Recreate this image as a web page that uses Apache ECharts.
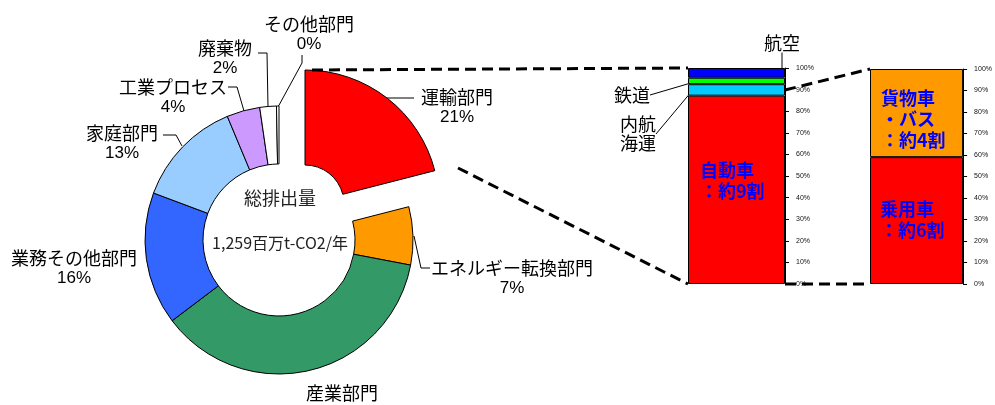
<!DOCTYPE html>
<html><head><meta charset="utf-8">
<script src="https://cdn.jsdelivr.net/npm/echarts@6/dist/echarts.min.js"></script>
<style>html,body{margin:0;padding:0;background:#fff}#c{width:995px;height:405px}</style>
</head><body><div id="c"></div>
<script>
// ---- data ----
const sectors = ['運輸部門','エネルギー転換部門','産業部門','業務その他部門','家庭部門','工業プロセス','廃棄物','その他部門'];
const sectorShares = [21, 7, 36.7, 16, 13, 4, 2, 0.3];
const totalTitle = '総排出量';
const totalAmount = '1,259百万t-CO2/年';
const transportModes = ['自動車','内航海運','鉄道','航空'];
const transportShares = [87.2, 5.3, 3.0, 4.5];
const transportNotes = ['：約9割', '', '', ''];
const vehicleTypes = ['乗用車','貨物車・バス'];
const vehicleShares = [59, 41];
const vehicleNotes = ['：約6割', '：約4割'];

// ---- styles / layout ----
const JP = "'Noto Sans CJK JP', sans-serif";
const NUM = "'Liberation Sans Narrow', 'Liberation Sans', Arial, sans-serif";
const sectorColors = ['#FF0000','#FF9900','#339966','#3366FF','#99CCFF','#CC99FF','#FFFFFF','#FFFFFF'];
const transportColors = ['#FF0000','#00CCFF','#00FF00','#0000FF'];
const vehicleColors = ['#FF0000','#FF9900'];
const pieCenter = [279, 240], pieRadius = [76, 134];
const explodeCenter = [305, 204], explodeRadius = [39, 134];
const G1 = {left: 688, top: 68, width: 97, height: 216};
const G2 = {left: 870, top: 69, width: 97, height: 215};
const sectorLabelLayout = [
  {x: 457, y: 107, line: [[387, 98], [400, 98], [414, 98]]},
  {x: 512, y: 278, line: [[414, 236], [421, 268], [430, 268]]},
  {x: 342, y: 403, line: null},
  {x: 74,  y: 268, line: null},
  {x: 122, y: 143, line: [[182, 146], [176, 135], [163, 135]]},
  {x: 173, y: 97,  line: [[244, 111], [237, 87], [228, 87]]},
  {x: 225, y: 58,  line: [[268, 107], [267, 53], [258, 53]]},
  {x: 309, y: 34,  line: [[278, 107], [302, 63], [302, 55]]}
];
const transportLabelLayout = [
  null,
  {x: 638, y: 134, line: [[658, 112], [676, 98], [694, 84]]},
  {x: 632, y: 95,  line: [[652, 90], [671, 85], [690, 80]]},
  {x: 782, y: 43,  line: [[735, 67], [746, 55], [757, 42]]}
];
const insideLabel = {
  color: '#0000FF', fontFamily: JP, fontWeight: 'bold', fontSize: 18, align: 'left', verticalAlign: 'top'
};

const chart = echarts.init(document.getElementById('c'));

const pieMain = {
  type: 'pie', center: pieCenter, radius: pieRadius, startAngle: 90, clockwise: true,
  avoidLabelOverlap: false, silent: true,
  itemStyle: {borderColor: '#000', borderWidth: 1},
  data: sectors.map((n, i) => ({
    name: n, value: sectorShares[i],
    itemStyle: i === 0 ? {color: 'rgba(0,0,0,0)', borderWidth: 0} : {color: sectorColors[i]},
    labelLine: {show: !!sectorLabelLayout[i].line}
  })),
  label: {
    show: true, position: 'outside', color: '#000',
    formatter: p => '{n|' + p.name + '}\n{p|' + Math.round(p.value) + '%}',
    rich: {
      n: {fontFamily: JP, fontSize: 18, lineHeight: 20, color: '#000'},
      p: {fontFamily: NUM, fontSize: 17, lineHeight: 20, color: '#000'}
    }
  },
  labelLine: {show: true, lineStyle: {color: '#000', width: 1}},
  labelLayout: p => {
    const L = sectorLabelLayout[p.dataIndex];
    const o = {x: L.x, y: L.y, align: 'center', verticalAlign: 'middle'};
    if (L.line) o.labelLinePoints = L.line;
    return o;
  }
};

const pieExplode = {
  type: 'pie', center: explodeCenter, radius: explodeRadius, startAngle: 90, clockwise: true,
  silent: true, label: {show: false}, labelLine: {show: false},
  data: sectors.map((n, i) => ({
    name: n, value: sectorShares[i],
    itemStyle: i === 0 ? {color: sectorColors[0], borderColor: '#000', borderWidth: 1}
                       : {color: 'rgba(0,0,0,0)', borderWidth: 0}
  }))
};

function yAx(gi) {
  return {
    type: 'value', gridIndex: gi, min: 0, max: 100, interval: 10, position: 'right',
    axisLine: {show: true, lineStyle: {color: '#000', width: 1}},
    axisTick: {show: true, length: 4, lineStyle: {color: '#000'}},
    axisLabel: {formatter: '{value}%', fontSize: 7, margin: 11, color: '#111', fontFamily: "'Liberation Sans', Arial"},
    splitLine: {show: false}
  };
}

const transportSeries = transportModes.map((m, i) => {
  const L = transportLabelLayout[i];
  const s = {
    type: 'bar', name: m, xAxisIndex: 0, yAxisIndex: 0, stack: 't', barWidth: '100%',
    data: [transportShares[i]], silent: true,
    itemStyle: {color: transportColors[i], borderColor: '#000', borderWidth: 1}
  };
  if (i === 0) {
    s.label = Object.assign({show: true, position: [12, 64], lineHeight: 21,
      formatter: m + '\n' + transportNotes[i]}, insideLabel);
  } else {
    s.label = {show: true, position: 'inside', color: '#000', fontFamily: JP, fontSize: 18, lineHeight: 19,
      formatter: m.length > 2 ? m.slice(0, 2) + '\n' + m.slice(2) : m};
    s.labelLine = {show: true, lineStyle: {color: '#000', width: 1}};
    s.labelLayout = () => ({x: L.x, y: L.y, align: 'center', verticalAlign: 'middle', labelLinePoints: L.line});
  }
  return s;
});

const vehiclePos = [[10, 42], [11, 19]];
const vehicleSeries = vehicleTypes.map((v, i) => ({
  type: 'bar', name: v, xAxisIndex: 1, yAxisIndex: 1, stack: 'v', barWidth: '100%',
  data: [vehicleShares[i]], silent: true,
  itemStyle: {color: vehicleColors[i], borderColor: '#000', borderWidth: 1},
  label: Object.assign({show: true, position: vehiclePos[i], lineHeight: 21,
    formatter: v.replace('・', '\n・') + '\n' + vehicleNotes[i]}, insideLabel)
}));

const dash = {stroke: '#000', lineWidth: 3, lineDash: [11, 6]};
const connectors = [
  [312, 70, G1.left, G1.top],
  [458, 168, G1.left, G1.top + G1.height],
  [G1.left + G1.width, 90, G2.left, G2.top],
  [G1.left + G1.width, G1.top + G1.height, G2.left, G2.top + G2.height]
];

chart.setOption({
  animation: false,
  backgroundColor: '#fff',
  grid: [
    Object.assign({containLabel: false}, G1),
    Object.assign({containLabel: false}, G2)
  ],
  xAxis: [
    {type: 'category', gridIndex: 0, data: ['運輸部門'], show: false},
    {type: 'category', gridIndex: 1, data: ['自動車'], show: false}
  ],
  yAxis: [yAx(0), yAx(1)],
  series: [pieMain, pieExplode].concat(transportSeries, vehicleSeries),
  graphic: connectors.map(c => ({
    type: 'line', silent: true, z: 100,
    shape: {x1: c[0], y1: c[1], x2: c[2], y2: c[3]}, style: dash
  })).concat([
    {type: 'text', x: 280, y: 198, silent: true, z: 100,
     style: {text: totalTitle, font: "18px 'Noto Sans CJK JP'", fill: '#222', align: 'center', verticalAlign: 'middle', textAlign: 'center', textVerticalAlign: 'middle'}},
    {type: 'text', x: 280, y: 243, silent: true, z: 100,
     style: {text: totalAmount, font: "16px 'Noto Sans CJK JP'", fill: '#222', align: 'center', verticalAlign: 'middle', textAlign: 'center', textVerticalAlign: 'middle'}}
  ])
});
</script></body></html>
